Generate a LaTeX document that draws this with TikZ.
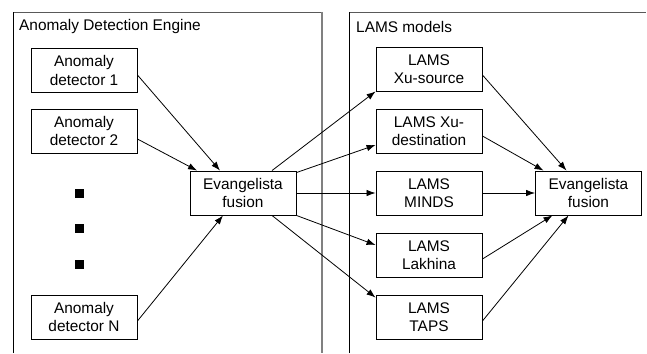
\documentclass[tikz,border=0pt]{standalone}
\usepackage{fontspec}
\setmainfont{Liberation Sans}
\usepackage{xcolor}
\usetikzlibrary{arrows.meta}
\tikzset{
  blk/.style={draw, line width=0.9pt, minimum width=106pt, minimum height=44pt,
    align=center, inner sep=0pt, font=\fontsize{15.4}{18.5}\selectfont},
  dotsq/.style={fill=black, minimum size=9pt, inner sep=0pt},
  flow/.style={line width=0.8pt, -{Latex[length=9pt,width=6.5pt]}},
  ttl/.style={anchor=west, inner sep=0pt, font=\fontsize{15.4}{18.5}\selectfont}
}
\newcommand{\blkbox}[4]{
  \node[blk] (#1) at (#2, #3) {#4};
}

\begin{document}
\begin{tikzpicture}[x=1pt, y=-1pt]
\useasboundingbox (0,0) rectangle (647,353);

% frames
\draw[line width=0.9pt] (13.5,353) -- (13.5,12);
\draw[line width=0.9pt, black!65] (13.5,12) -- (322,12);
\draw[line width=1.6pt, gray] (322,12) -- (322,353);
\draw[line width=0.9pt] (349.5,353) -- (349.5,12);
\draw[line width=0.9pt, black!65] (349.5,12) -- (646,12);
\node[ttl] (engine) at (19,27) {Anomaly Detection Engine};
\node[ttl] (models) at (356,27) {LAMS models};

\blkbox{ad1}{84}{70.5}{Anomaly\\detector 1}
\blkbox{ad2}{84}{131}{Anomaly\\detector 2}
\blkbox{adn}{84}{317}{Anomaly\\detector N}
\node[dotsq] (dot1) at (79,193) {};
\node[dotsq] (dot2) at (79,228) {};
\node[dotsq] (dot3) at (79,264) {};
\blkbox{fuseL}{243}{193}{Evangelista\\fusion}

\blkbox{xus}{429}{69}{LAMS\\Xu-source}
\blkbox{xud}{429}{131}{LAMS Xu-\\destination}
\blkbox{minds}{429}{193}{LAMS\\MINDS}
\blkbox{lak}{429}{255}{LAMS\\Lakhina}
\blkbox{taps}{429}{317}{LAMS\\TAPS}
\blkbox{fuseR}{588.5}{193}{Evangelista\\fusion}

\draw[flow] ([yshift=-4.5pt]ad1.east) -- ([xshift=-23pt]fuseL.north);
\draw[flow] ([yshift=-8pt]ad2.east) -- ([xshift=-46pt]fuseL.north);
\draw[flow] ([yshift=-4pt]adn.east) -- ([xshift=-20pt]fuseL.south);

\draw[flow] ([xshift=29pt]fuseL.north) -- (xus.south west);
\draw[flow] ([yshift=-2pt]fuseL.north east) -- ([yshift=-14pt]xud.west);
\draw[flow] (fuseL.east) -- (minds.west);
\draw[flow] (fuseL.south east) -- ([yshift=10pt]lak.west);
\draw[flow] ([xshift=29pt]fuseL.south) -- ([yshift=-3pt]taps.north west);

\draw[flow] ([yshift=-6pt]xus.east) -- ([xshift=-22pt]fuseR.north);
\draw[flow] ([yshift=-5pt]xud.east) -- ([xshift=-45pt]fuseR.north);
\draw[flow] (minds.east) -- (fuseR.west);
\draw[flow] ([yshift=-4pt]lak.east) -- ([xshift=-36pt]fuseR.south);
\draw[flow] ([yshift=-4pt]taps.east) -- ([xshift=-20pt]fuseR.south);

\end{tikzpicture}
\end{document}
